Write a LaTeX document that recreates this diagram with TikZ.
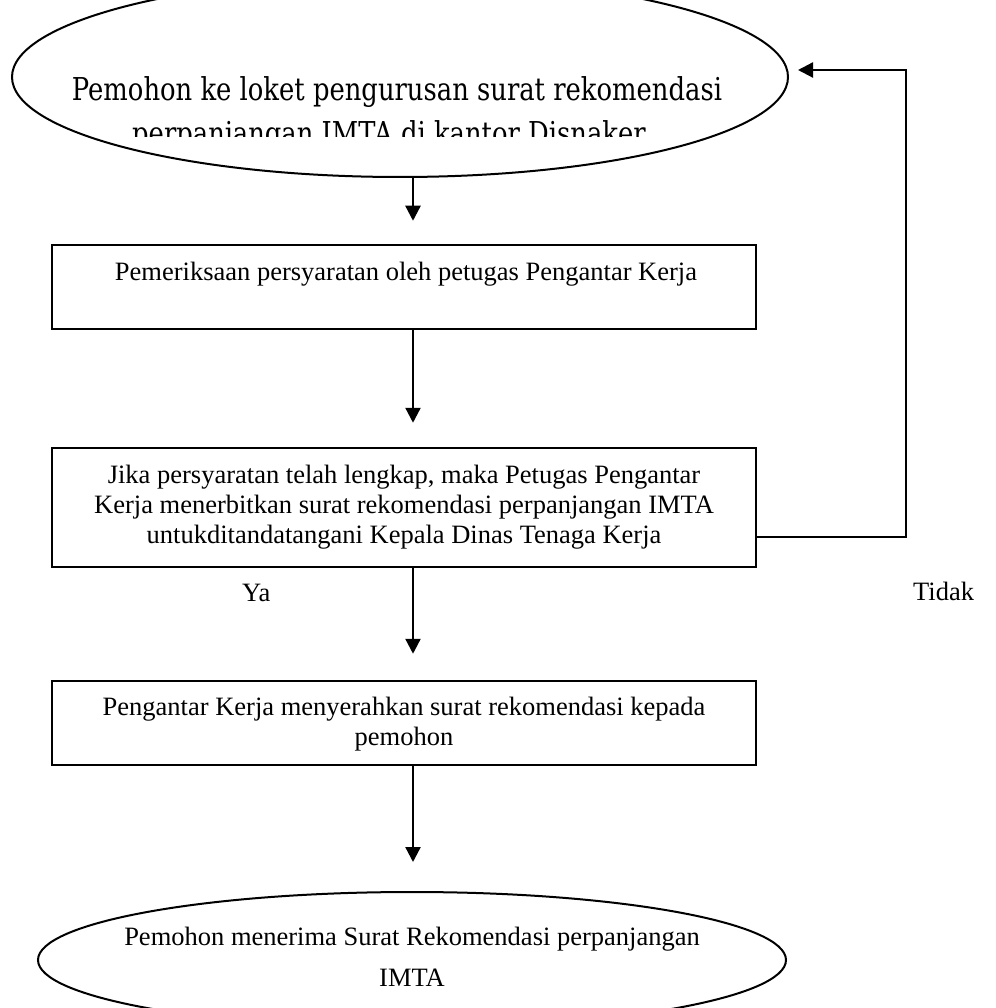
\documentclass[tikz,border=0pt]{standalone}
\usepackage{fontspec}
\setmainfont{Liberation Serif}
\newfontfamily\headfont[FakeStretch=0.82]{DejaVu Serif}
\usetikzlibrary{arrows.meta,shapes.geometric}
\begin{document}
\begin{tikzpicture}[x=1pt,y=-1pt,
  boxstyle/.style={draw,line width=2.5pt,rectangle,inner sep=0pt},
  ovalstyle/.style={draw,line width=2pt,ellipse,inner sep=0pt},
  arr/.style={line width=2.3pt,-{Triangle[length=15pt,width=15pt]}},
  txt/.style={font=\fontsize{26.5}{30}\selectfont,align=center,inner sep=0pt}]
\clip (0,0) rectangle (995,1008);
\useasboundingbox (0,0) rectangle (995,1008);

% start oval and its (clipped) caption
\node[ovalstyle,minimum width=776pt,minimum height=200pt] (start) at (400,77) {};
\begin{scope}
  \clip (0,0) rectangle (995,137);
  \node[inner sep=0pt,anchor=base,font=\headfont\fontsize{31.5}{44}\selectfont] (startline1) at (397,101) {Pemohon ke loket pengurusan surat rekomendasi};
  \node[inner sep=0pt,anchor=base,font=\headfont\fontsize{31.5}{44}\selectfont] (startline2) at (389,145) {perpanjangan IMTA di kantor Disnaker};
\end{scope}

% process boxes
\node[boxstyle,minimum width=704pt,minimum height=84pt] (check) at (404,287) {};
\node[txt,anchor=base] (checktext) at (406,280) {Pemeriksaan persyaratan oleh petugas Pengantar Kerja};

\node[boxstyle,minimum width=704pt,minimum height=119pt] (issue) at (404,507.5) {};
\node[txt,anchor=base] (issuetext1) at (404,483) {Jika persyaratan telah lengkap, maka Petugas Pengantar};
\node[txt,anchor=base] (issuetext2) at (404,513) {Kerja menerbitkan surat rekomendasi perpanjangan IMTA};
\node[txt,anchor=base] (issuetext3) at (404,543) {untukditandatangani Kepala Dinas Tenaga Kerja};

\node[boxstyle,minimum width=704pt,minimum height=84pt] (hand) at (404,723) {};
\node[txt,anchor=base] (handtext1) at (404,715) {Pengantar Kerja menyerahkan surat rekomendasi kepada};
\node[txt,anchor=base] (handtext2) at (404,745) {pemohon};

% end oval
\node[ovalstyle,minimum width=748pt,minimum height=136pt] (finish) at (412,960) {};
\node[txt,anchor=base] (finishtext1) at (412,945) {Pemohon menerima Surat Rekomendasi perpanjangan};
\node[txt,anchor=base] (finishtext2) at (412,986) {IMTA};

% branch labels
\node[txt,anchor=base west] (yes) at (242,601) {Ya};
\node[txt,anchor=base west] (no) at (913,600) {Tidak};

% flow arrows
\coordinate (axis) at (413,0);
\draw[arr,shorten >=23pt] (start.south -| axis) -- (check.north -| axis);
\draw[arr,shorten >=24pt] (check.south -| axis) -- (issue.north -| axis);
\draw[arr,shorten >=26pt] (issue.south -| axis) -- (hand.north -| axis);
\draw[arr,shorten >=29pt] (hand.south -| axis) -- (finish.north -| axis);

% return path when requirements are incomplete
\coordinate (corner) at (906,537);
\coordinate (backtip) at (798,70);
\draw[arr] (issue.east |- corner) -- (corner) |- (backtip);
\end{tikzpicture}
\end{document}
